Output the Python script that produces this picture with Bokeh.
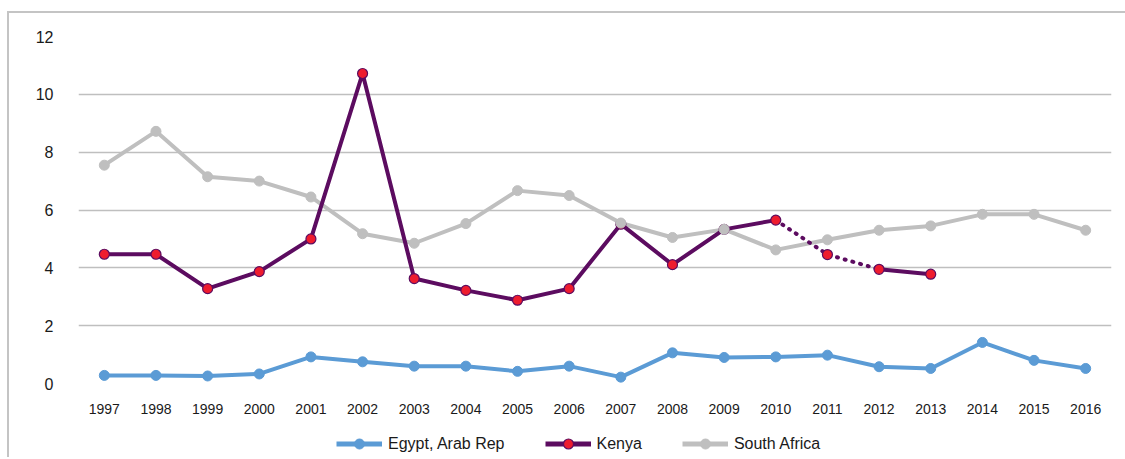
from bokeh.plotting import figure
from bokeh.layouts import row, column
from bokeh.models import Range1d, Legend, LegendItem, Spacer
from bokeh.embed import file_html
from bokeh.resources import INLINE

years = [str(y) for y in range(1997, 2017)]

egypt = [0.28, 0.28, 0.26, 0.33, 0.92, 0.75, 0.60, 0.60, 0.42, 0.60,
         0.22, 1.06, 0.90, 0.92, 0.98, 0.58, 0.52, 1.42, 0.80, 0.52]

kenya = [4.47, 4.47, 3.28, 3.87, 5.00, 10.72, 3.63, 3.22, 2.88, 3.28,
         5.51, 4.11, 5.33, 5.65, 4.46, 3.95, 3.78, None, None, None]

south_africa = [7.55, 8.72, 7.15, 7.00, 6.45, 5.18, 4.85, 5.53, 6.67, 6.50,
                5.55, 5.05, 5.33, 4.62, 4.97, 5.30, 5.45, 5.85, 5.85, 5.30]

# Kenya years joined by a dotted (estimated) segment
kenya_dotted_years = ["2010", "2011", "2012"]

series_names = ["Egypt, Arab Rep", "Kenya", "South Africa"]

y_ticks = [0, 2, 4, 6, 8, 10, 12]

EGYPT_C = "#5b9bd5"
KENYA_C = "#5c0c60"
KENYA_FILL = "#ee1c2e"
SA_C = "#bfbfbf"
GRID_C = "#bfbfbf"
BORDER_C = "#c4c4c4"
TEXT_C = "#1a1a1a"
FONT = "Liberation Sans"

nan = float("nan")
kenya_vals = [nan if v is None else v for v in kenya]
# solid line skips the interior of the dotted stretch
kenya_solid = [nan if y in kenya_dotted_years[1:-1] else v
               for y, v in zip(years, kenya_vals)]
kd_x = [y for y in years if y in kenya_dotted_years]
kd_y = [v for y, v in zip(years, kenya_vals) if y in kenya_dotted_years]
k_x = [y for y, v in zip(years, kenya) if v is not None]
k_y = [v for v in kenya if v is not None]

styles = {
    "Egypt, Arab Rep": dict(line=EGYPT_C, fill=EGYPT_C, outline=EGYPT_C, ow=1, data=egypt),
    "Kenya": dict(line=KENYA_C, fill=KENYA_FILL, outline=KENYA_C, ow=1.2, data=kenya_vals),
    "South Africa": dict(line=SA_C, fill=SA_C, outline=SA_C, ow=1, data=south_africa),
}

# ---- main chart -------------------------------------------------------
p = figure(x_range=years, y_range=Range1d(0, 12), width=1116, height=415,
           output_backend="svg", toolbar_location=None,
           min_border_left=69, min_border_right=14, min_border_top=23,
           min_border_bottom=45, outline_line_color=None)

p.xgrid.grid_line_color = None
p.ygrid.grid_line_color = GRID_C
p.ygrid.grid_line_width = 1.5
p.yaxis.ticker = y_ticks

for ax in (p.xaxis[0], p.yaxis[0]):
    ax.axis_line_color = None
    ax.major_tick_line_color = None
    ax.minor_tick_line_color = None
    ax.major_label_text_font = FONT
    ax.major_label_text_color = TEXT_C
p.yaxis.major_label_text_font_size = "16px"
p.yaxis.major_label_standoff = 19
p.xaxis.major_label_text_font_size = "14px"
p.xaxis.major_label_standoff = 14

s = styles["Egypt, Arab Rep"]
p.line(years, egypt, line_color=s["line"], line_width=4, line_join="round")
p.scatter(years, egypt, size=10, fill_color=s["fill"], line_color=s["outline"])

s = styles["South Africa"]
p.line(years, south_africa, line_color=s["line"], line_width=4, line_join="round")

s = styles["Kenya"]
p.line(years, kenya_solid, line_color=s["line"], line_width=4, line_join="round")
p.line(kd_x, kd_y, line_color=s["line"], line_width=4, line_dash="1 7", line_cap="round")
p.scatter(k_x, k_y, size=10, fill_color=s["fill"], line_color=s["outline"], line_width=s["ow"])

s = styles["South Africa"]
p.scatter(years, south_africa, size=10, fill_color=s["fill"], line_color=s["outline"])

# ---- legend strip -----------------------------------------------------
# the strip's y range sits far from the data, so only the legend shows
lg = figure(x_range=p.x_range, y_range=Range1d(1000, 1001), width=1116, height=31,
            output_backend="svg", toolbar_location=None,
            x_axis_type=None, y_axis_type=None, outline_line_color=None,
            min_border=0)
items = []
for name in series_names:
    s = styles[name]
    ln = lg.line(years, s["data"], line_color=s["line"], line_width=5)
    mk = lg.scatter(years, s["data"], size=10, fill_color=s["fill"],
                    line_color=s["outline"], line_width=s["ow"])
    items.append(LegendItem(label=name, renderers=[ln, mk]))

legend = Legend(items=items, orientation="horizontal", location=(258, 3))
legend.label_text_font = FONT
legend.label_text_font_size = "16px"
legend.label_text_color = TEXT_C
legend.glyph_width = 46
legend.glyph_height = 25
legend.label_height = 16
legend.label_standoff = 6
legend.spacing = 40
legend.border_line_color = None
legend.background_fill_alpha = 0
legend.padding = 0
legend.margin = 0
lg.add_layout(legend)

# thin grey frame on the top and left of the chart area
left_edge = Spacer(width=2, height=446, styles={"background-color": BORDER_C})
top_edge = Spacer(width=1116, height=2, styles={"background-color": BORDER_C})
layout = row(Spacer(width=7, height=459),
             column(Spacer(width=2, height=11), left_edge),
             column(Spacer(width=1116, height=11), top_edge, p, lg))

open("out.html", "w").write(file_html(layout, INLINE))
